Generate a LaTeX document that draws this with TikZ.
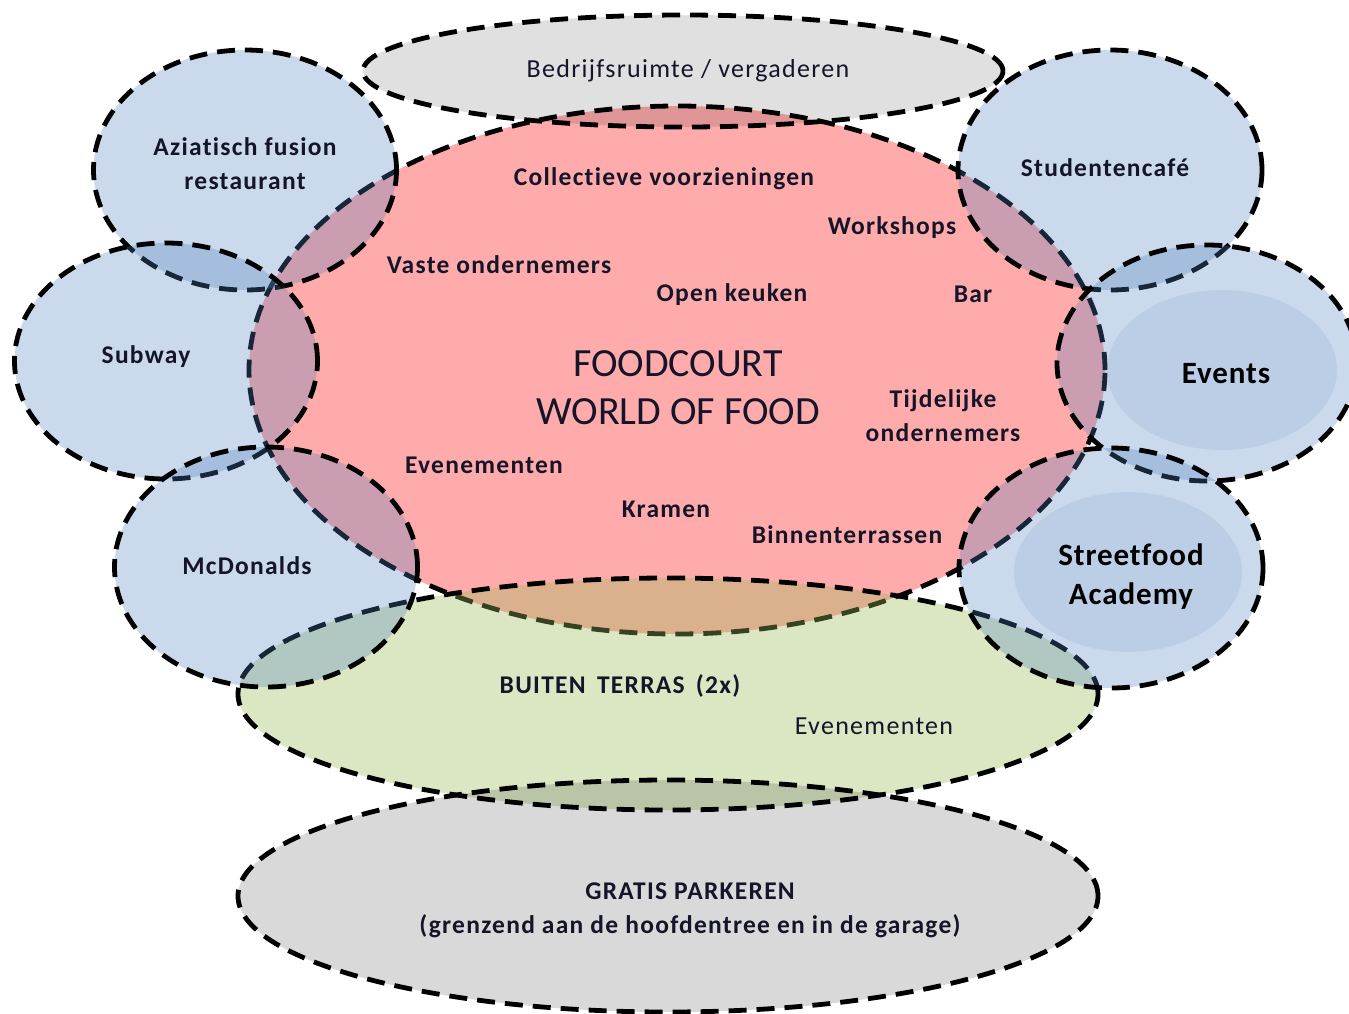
\documentclass[tikz,border=0pt]{standalone}
\usepackage{fontspec}
\setmainfont{Carlito}[Ligatures=NoCommon]
\newfontfamily\widefont{Carlito}[LetterSpace=5,Ligatures=NoCommon]
\newfontfamily\midfont{Carlito}[LetterSpace=3,Ligatures=NoCommon]
\usetikzlibrary{shapes.geometric}
\definecolor{txt}{HTML}{15152A}
\definecolor{bluef}{HTML}{4F81BD}
\definecolor{greenf}{HTML}{9BBB59}
\tikzset{
  region/.style={ellipse, draw=black, line width=4.8pt, dash pattern=on 18pt off 10pt, inner sep=0pt},
  redreg/.style={region, fill=red, fill opacity=0.33},
  greenreg/.style={region, fill=greenf, fill opacity=0.36},
  bluereg/.style={region, fill=bluef, fill opacity=0.3},
  grayreg/.style={region, fill=black, fill opacity=0.12},
  innerreg/.style={ellipse, fill=bluef, fill opacity=0.12, inner sep=0pt},
  lbl/.style={font=\widefont\fontsize{25.5}{34}\selectfont\bfseries, text=txt, align=center},
  lblr/.style={font=\widefont\fontsize{26}{34}\selectfont, text=txt, align=center},
  big/.style={font=\fontsize{40}{48}\selectfont, text=txt, align=center},
  bigb/.style={font=\midfont\fontsize{31}{39}\selectfont\bfseries, text=black, align=center}
}
\begin{document}
\begin{tikzpicture}[x=1pt,y=-1pt]
\useasboundingbox (0,0) rectangle (1349,1013);
\clip (0,0) rectangle (1349,1013);
% regions
\node[redreg, minimum width=856pt, minimum height=528pt] (food) at (677,370) {};
\node[greenreg, minimum width=860pt, minimum height=232pt] (terras) at (668,694) {};
\node[bluereg, minimum width=303pt, minimum height=240pt] (azi) at (245,170) {};
\node[bluereg, minimum width=303pt, minimum height=236pt] (sub) at (166,361) {};
\node[bluereg, minimum width=303pt, minimum height=240pt] (mcd) at (266,567) {};
\node[bluereg, minimum width=304pt, minimum height=240pt] (stud) at (1110,170) {};
\node[bluereg, minimum width=300pt, minimum height=236pt] (evo) at (1207,363) {};
\node[bluereg, minimum width=304pt, minimum height=240pt] (sfo) at (1111,568) {};
\node[innerreg, minimum width=230pt, minimum height=160pt] (evi) at (1222,370) {};
\node[innerreg, minimum width=228pt, minimum height=160pt] (sfi) at (1128,572) {};
\node[grayreg, minimum width=640pt, minimum height=112pt] (bedr) at (683,71) {};
\node[grayreg, fill opacity=0.15, minimum width=860pt, minimum height=232pt] (park) at (668,896) {};
% labels
\node[lblr] (tbedr) at (688,71) {Bedrijfsruimte / vergaderen};
\node[lbl] (tazi) at (245,164) {Aziatisch fusion\\restaurant};
\node[lbl] (tsub) at (146,357) {Subway};
\node[lbl] (tmcd) at (247,566) {McDonalds};
\node[lbl] (tcol) at (664,179) {Collectieve voorzieningen};
\node[lbl] (twork) at (892,228) {Workshops};
\node[lbl] (tvaste) at (499,265) {Vaste ondernemers};
\node[lbl] (topen) at (732,295) {Open keuken};
\node[lbl] (tbar) at (973,294) {Bar};
\node[big] (tfood) at (678,388) {FOODCOURT\\WORLD OF FOOD};
\node[lbl] (ttijd) at (943,416) {Tijdelijke\\ondernemers};
\node[lbl] (teven) at (484,465) {Evenementen};
\node[lbl] (tkram) at (666,509) {Kramen};
\node[lbl] (tbinn) at (847,535) {Binnenterrassen};
\node[lbl] (tstud) at (1105,168) {Studentencafé};
\node[bigb] (tevents) at (1226,374) {Events};
\node[bigb] (tsf) at (1131,577) {Streetfood\\Academy};
\node[lbl] (tbuit) at (620,686) {BUITEN\, TERRAS\, (2x)};
\node[lblr] (teven2) at (874,726) {Evenementen};
\node[lbl] (tpark) at (690,910) {GRATIS PARKEREN\\(grenzend aan de hoofdentree en in de garage)};
\end{tikzpicture}
\end{document}
